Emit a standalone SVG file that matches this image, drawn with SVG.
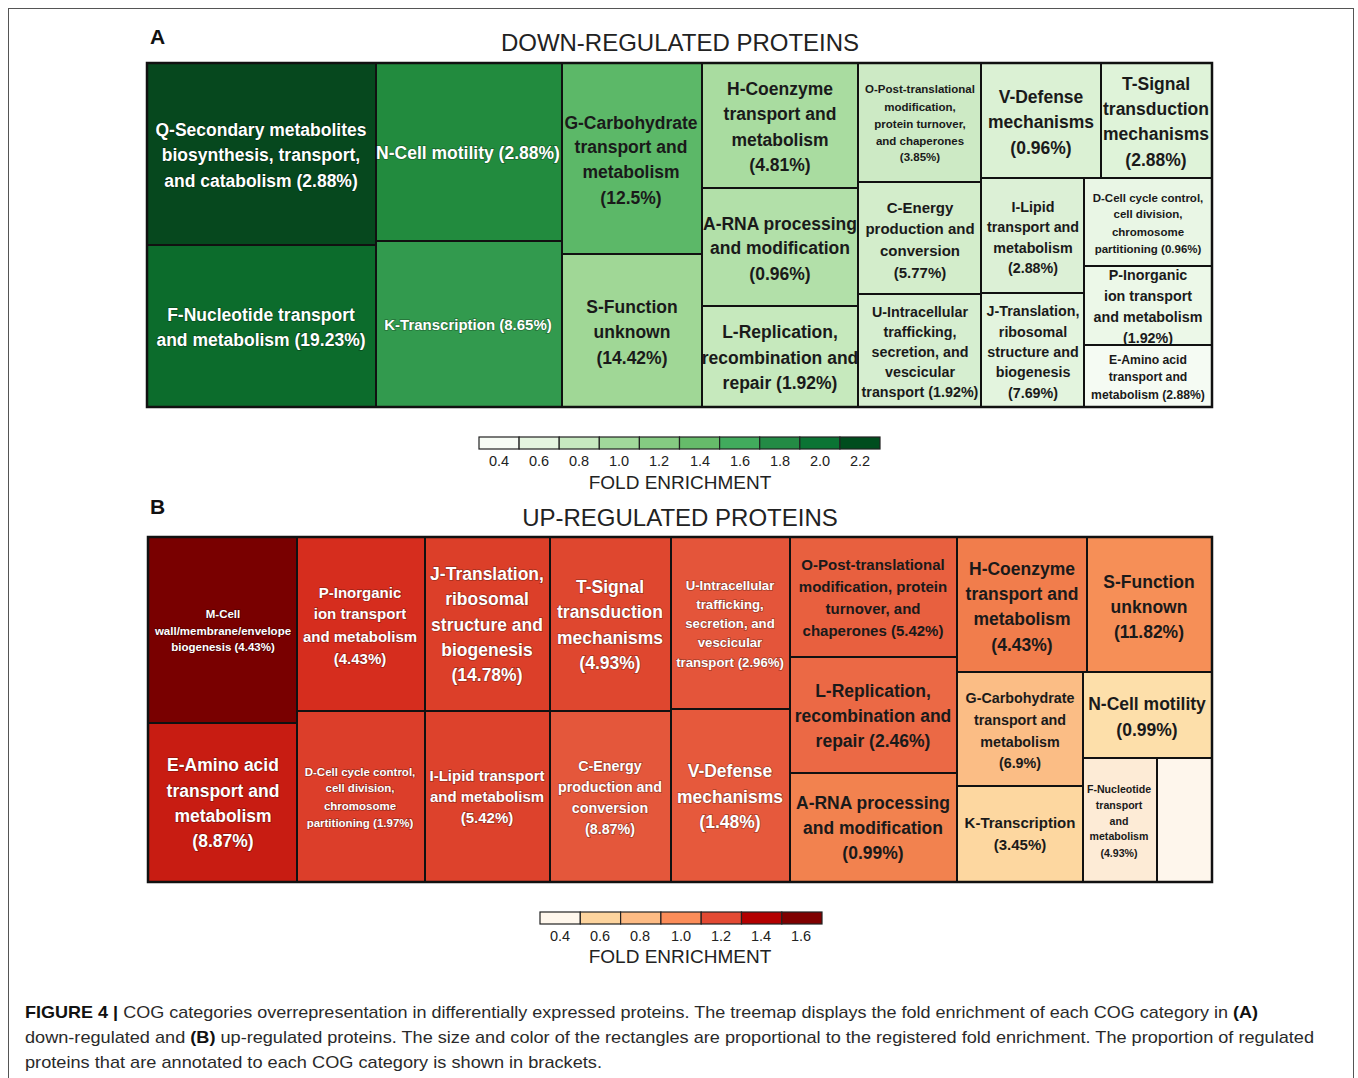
<svg xmlns="http://www.w3.org/2000/svg" width="1358" height="1078" viewBox="0 0 1358 1078">
<style>
.cell{stroke:#111;stroke-width:2}
.t{font-family:"Liberation Sans",Arial,sans-serif;font-weight:bold;text-anchor:middle}
.w{fill:#fff;stroke:rgba(0,0,0,0.3);stroke-width:1.5;paint-order:stroke}
.k{fill:#1a1a1a}
.f17{font-size:17.5px}
.f15{font-size:15px}
.f14{font-size:14.3px}
.f13{font-size:13.2px}
.f12{font-size:12.2px}
.f11{font-size:11.5px}
.f10{font-size:10.6px}
.lg{font-family:"Liberation Sans",Arial,sans-serif;fill:#222}
.lb{stroke:#222;stroke-width:1.2}
.cap{font-family:"Liberation Sans",Arial,sans-serif;font-size:17px;fill:#2a2a2a}
</style>
<rect x="0" y="0" width="1358" height="1078" fill="#fff"/>
<rect x="8.5" y="8.5" width="1345" height="1090" fill="none" stroke="#555" stroke-width="1"/>

<text x="150" y="44" font-family="Liberation Sans,Arial,sans-serif" font-weight="bold" font-size="21" fill="#111">A</text>
<text x="680" y="51" class="lg" font-size="24" text-anchor="middle">DOWN-REGULATED PROTEINS</text>

<g id="panelA">
<g id="a-Q"><rect class="cell" x="147" y="63" width="229" height="182" fill="#06481e"/>
<text class="t w f17" x="261"><tspan x="261" y="136">Q-Secondary metabolites</tspan><tspan x="261" y="161">biosynthesis, transport,</tspan><tspan x="261" y="187">and catabolism (2.88%)</tspan></text></g>
<g id="a-F"><rect class="cell" x="147" y="245" width="229" height="162" fill="#0c6c2c"/>
<text class="t w f17"><tspan x="261" y="321">F-Nucleotide transport</tspan><tspan x="261" y="346">and metabolism (19.23%)</tspan></text></g>
<g id="a-N"><rect class="cell" x="376" y="63" width="186" height="178" fill="#228b3e"/>
<text class="t w f17"><tspan x="468" y="159">N-Cell motility (2.88%)</tspan></text></g>
<g id="a-K"><rect class="cell" x="376" y="241" width="186" height="166" fill="#329a4e"/>
<text class="t w f15"><tspan x="468" y="330">K-Transcription (8.65%)</tspan></text></g>
<g id="a-G"><rect class="cell" x="562" y="63" width="140" height="191" fill="#5cb868"/>
<text class="t k f17"><tspan x="631" y="129">G-Carbohydrate</tspan><tspan x="631" y="153">transport and</tspan><tspan x="631" y="178">metabolism</tspan><tspan x="631" y="204">(12.5%)</tspan></text></g>
<g id="a-S"><rect class="cell" x="562" y="254" width="140" height="153" fill="#a0d796"/>
<text class="t k f17"><tspan x="632" y="313">S-Function</tspan><tspan x="632" y="338">unknown</tspan><tspan x="632" y="364">(14.42%)</tspan></text></g>
<g id="a-H"><rect class="cell" x="702" y="63" width="156" height="125" fill="#a9dca0"/>
<text class="t k f17"><tspan x="780" y="95">H-Coenzyme</tspan><tspan x="780" y="120">transport and</tspan><tspan x="780" y="146">metabolism</tspan><tspan x="780" y="171">(4.81%)</tspan></text></g>
<g id="a-A"><rect class="cell" x="702" y="188" width="156" height="118" fill="#b2e0a9"/>
<text class="t k f17"><tspan x="780" y="230">A-RNA processing</tspan><tspan x="780" y="254">and modification</tspan><tspan x="780" y="280">(0.96%)</tspan></text></g>
<g id="a-L"><rect class="cell" x="702" y="306" width="156" height="101" fill="#c6e9bd"/>
<text class="t k f17"><tspan x="780" y="338">L-Replication,</tspan><tspan x="780" y="364">recombination and</tspan><tspan x="780" y="389">repair (1.92%)</tspan></text></g>
<g id="a-O"><rect class="cell" x="858" y="63" width="123" height="119" fill="#cdeac5"/>
<text class="t k f11"><tspan x="920" y="93">O-Post-translational</tspan><tspan x="920" y="111">modification,</tspan><tspan x="920" y="128">protein turnover,</tspan><tspan x="920" y="145">and chaperones</tspan><tspan x="920" y="161">(3.85%)</tspan></text></g>
<g id="a-C"><rect class="cell" x="858" y="182" width="123" height="112" fill="#d3edcb"/>
<text class="t k f15"><tspan x="920" y="213">C-Energy</tspan><tspan x="920" y="234">production and</tspan><tspan x="920" y="256">conversion</tspan><tspan x="920" y="278">(5.77%)</tspan></text></g>
<g id="a-U"><rect class="cell" x="858" y="294" width="123" height="113" fill="#d6eed0"/>
<text class="t k f14"><tspan x="920" y="317">U-Intracellular</tspan><tspan x="920" y="337">trafficking,</tspan><tspan x="920" y="357">secretion, and</tspan><tspan x="920" y="377">vescicular</tspan><tspan x="920" y="397">transport (1.92%)</tspan></text></g>
<g id="a-V"><rect class="cell" x="981" y="63" width="120" height="115" fill="#dbf1d4"/>
<text class="t k f17"><tspan x="1041" y="103">V-Defense</tspan><tspan x="1041" y="128">mechanisms</tspan><tspan x="1041" y="154">(0.96%)</tspan></text></g>
<g id="a-T"><rect class="cell" x="1101" y="63" width="111" height="115" fill="#dff3d9"/>
<text class="t k f17"><tspan x="1156" y="90">T-Signal</tspan><tspan x="1156" y="115">transduction</tspan><tspan x="1156" y="140">mechanisms</tspan><tspan x="1156" y="166">(2.88%)</tspan></text></g>
<g id="a-I"><rect class="cell" x="981" y="178" width="103" height="115" fill="#dcf0d6"/>
<text class="t k f14"><tspan x="1033" y="212">I-Lipid</tspan><tspan x="1033" y="232">transport and</tspan><tspan x="1033" y="253">metabolism</tspan><tspan x="1033" y="273">(2.88%)</tspan></text></g>
<g id="a-J"><rect class="cell" x="981" y="293" width="103" height="114" fill="#e3f4de"/>
<text class="t k f14"><tspan x="1033" y="316">J-Translation,</tspan><tspan x="1033" y="337">ribosomal</tspan><tspan x="1033" y="357">structure and</tspan><tspan x="1033" y="377">biogenesis</tspan><tspan x="1033" y="398">(7.69%)</tspan></text></g>
<g id="a-D"><rect class="cell" x="1084" y="178" width="128" height="88" fill="#e9f6e5"/>
<text class="t k f11"><tspan x="1148" y="202">D-Cell cycle control,</tspan><tspan x="1148" y="218">cell division,</tspan><tspan x="1148" y="236">chromosome</tspan><tspan x="1148" y="253">partitioning (0.96%)</tspan></text></g>
<g id="a-P"><rect class="cell" x="1084" y="266" width="128" height="79" fill="#ecf8e8"/>
<text class="t k f14"><tspan x="1148" y="280">P-Inorganic</tspan><tspan x="1148" y="301">ion transport</tspan><tspan x="1148" y="322">and metabolism</tspan><tspan x="1148" y="343">(1.92%)</tspan></text></g>
<g id="a-E"><rect class="cell" x="1084" y="345" width="128" height="62" fill="#f5fbf3"/>
<text class="t k f12"><tspan x="1148" y="364">E-Amino acid</tspan><tspan x="1148" y="381">transport and</tspan><tspan x="1148" y="399">metabolism (2.88%)</tspan></text></g>
<rect x="147" y="63" width="1065" height="344" fill="none" stroke="#111" stroke-width="2.5"/>
</g>

<g id="legendA">
<rect class="lb" x="479" y="437" width="40.1" height="12" fill="#f7fcf5"/>
<rect class="lb" x="519.1" y="437" width="40.1" height="12" fill="#e5f5e0"/>
<rect class="lb" x="559.2" y="437" width="40.1" height="12" fill="#c7e9c0"/>
<rect class="lb" x="599.3" y="437" width="40.1" height="12" fill="#a1d99b"/>
<rect class="lb" x="639.4" y="437" width="40.1" height="12" fill="#85cb82"/>
<rect class="lb" x="679.5" y="437" width="40.1" height="12" fill="#66bb6a"/>
<rect class="lb" x="719.6" y="437" width="40.1" height="12" fill="#41ab5d"/>
<rect class="lb" x="759.7" y="437" width="40.1" height="12" fill="#238b45"/>
<rect class="lb" x="799.8" y="437" width="40.1" height="12" fill="#0b7434"/>
<rect class="lb" x="839.9" y="437" width="40.1" height="12" fill="#004d1e"/>
<g class="lg" font-size="14.5" text-anchor="middle">
<text x="499" y="466">0.4</text><text x="539" y="466">0.6</text><text x="579" y="466">0.8</text><text x="619" y="466">1.0</text><text x="659" y="466">1.2</text><text x="700" y="466">1.4</text><text x="740" y="466">1.6</text><text x="780" y="466">1.8</text><text x="820" y="466">2.0</text><text x="860" y="466">2.2</text>
</g>
<text class="lg" x="680" y="489" font-size="19" text-anchor="middle">FOLD ENRICHMENT</text>
</g>

<text x="150" y="514" font-family="Liberation Sans,Arial,sans-serif" font-weight="bold" font-size="21" fill="#111">B</text>
<text x="680" y="526" class="lg" font-size="24" text-anchor="middle">UP-REGULATED PROTEINS</text>

<g id="panelB">
<g id="b-M"><rect class="cell" x="148" y="537" width="149" height="186" fill="#790000"/>
<text class="t w f11"><tspan x="223" y="618">M-Cell</tspan><tspan x="223" y="635">wall/membrane/envelope</tspan><tspan x="223" y="651">biogenesis (4.43%)</tspan></text></g>
<g id="b-E"><rect class="cell" x="148" y="723" width="149" height="159" fill="#c81c12"/>
<text class="t w f17"><tspan x="223" y="771">E-Amino acid</tspan><tspan x="223" y="797">transport and</tspan><tspan x="223" y="822">metabolism</tspan><tspan x="223" y="847">(8.87%)</tspan></text></g>
<g id="b-P"><rect class="cell" x="297" y="537" width="128" height="174" fill="#d62d1e"/>
<text class="t w f15"><tspan x="360" y="598">P-Inorganic</tspan><tspan x="360" y="619">ion transport</tspan><tspan x="360" y="642">and metabolism</tspan><tspan x="360" y="664">(4.43%)</tspan></text></g>
<g id="b-D"><rect class="cell" x="297" y="711" width="128" height="171" fill="#dc3e2a"/>
<text class="t w f11"><tspan x="360" y="776">D-Cell cycle control,</tspan><tspan x="360" y="792">cell division,</tspan><tspan x="360" y="810">chromosome</tspan><tspan x="360" y="827">partitioning (1.97%)</tspan></text></g>
<g id="b-J"><rect class="cell" x="425" y="537" width="125" height="174" fill="#dc3f29"/>
<text class="t w f17"><tspan x="487" y="580">J-Translation,</tspan><tspan x="487" y="605">ribosomal</tspan><tspan x="487" y="631">structure and</tspan><tspan x="487" y="656">biogenesis</tspan><tspan x="487" y="681">(14.78%)</tspan></text></g>
<g id="b-I"><rect class="cell" x="425" y="711" width="125" height="171" fill="#dd422c"/>
<text class="t w f15"><tspan x="487" y="781">I-Lipid transport</tspan><tspan x="487" y="802">and metabolism</tspan><tspan x="487" y="823">(5.42%)</tspan></text></g>
<g id="b-T"><rect class="cell" x="550" y="537" width="121" height="174" fill="#df472f"/>
<text class="t w f17"><tspan x="610" y="593">T-Signal</tspan><tspan x="610" y="618">transduction</tspan><tspan x="610" y="644">mechanisms</tspan><tspan x="610" y="669">(4.93%)</tspan></text></g>
<g id="b-C"><rect class="cell" x="550" y="711" width="121" height="171" fill="#e4573b"/>
<text class="t w f14"><tspan x="610" y="771">C-Energy</tspan><tspan x="610" y="792">production and</tspan><tspan x="610" y="813">conversion</tspan><tspan x="610" y="834">(8.87%)</tspan></text></g>
<g id="b-U"><rect class="cell" x="671" y="537" width="119" height="172" fill="#e4553a"/>
<text class="t w f13"><tspan x="730" y="590">U-Intracellular</tspan><tspan x="730" y="609">trafficking,</tspan><tspan x="730" y="628">secretion, and</tspan><tspan x="730" y="647">vescicular</tspan><tspan x="730" y="667">transport (2.96%)</tspan></text></g>
<g id="b-V"><rect class="cell" x="671" y="709" width="119" height="173" fill="#e6593c"/>
<text class="t w f17"><tspan x="730" y="777">V-Defense</tspan><tspan x="730" y="803">mechanisms</tspan><tspan x="730" y="828">(1.48%)</tspan></text></g>
<g id="b-O"><rect class="cell" x="790" y="537" width="167" height="120" fill="#e8603f"/>
<text class="t k f15"><tspan x="873" y="570">O-Post-translational</tspan><tspan x="873" y="592">modification, protein</tspan><tspan x="873" y="614">turnover, and</tspan><tspan x="873" y="636">chaperones (5.42%)</tspan></text></g>
<g id="b-L"><rect class="cell" x="790" y="657" width="167" height="116" fill="#eb6945"/>
<text class="t k f17"><tspan x="873" y="697">L-Replication,</tspan><tspan x="873" y="722">recombination and</tspan><tspan x="873" y="747">repair (2.46%)</tspan></text></g>
<g id="b-A"><rect class="cell" x="790" y="773" width="167" height="109" fill="#f2824f"/>
<text class="t k f17"><tspan x="873" y="809">A-RNA processing</tspan><tspan x="873" y="834">and modification</tspan><tspan x="873" y="859">(0.99%)</tspan></text></g>
<g id="b-H"><rect class="cell" x="957" y="537" width="130" height="135" fill="#f17d4c"/>
<text class="t k f17"><tspan x="1022" y="575">H-Coenzyme</tspan><tspan x="1022" y="600">transport and</tspan><tspan x="1022" y="625">metabolism</tspan><tspan x="1022" y="651">(4.43%)</tspan></text></g>
<g id="b-S"><rect class="cell" x="1087" y="537" width="125" height="135" fill="#f68f57"/>
<text class="t k f17"><tspan x="1149" y="588">S-Function</tspan><tspan x="1149" y="613">unknown</tspan><tspan x="1149" y="638">(11.82%)</tspan></text></g>
<g id="b-G"><rect class="cell" x="957" y="672" width="126" height="114" fill="#fbbd85"/>
<text class="t k f14"><tspan x="1020" y="703">G-Carbohydrate</tspan><tspan x="1020" y="725">transport and</tspan><tspan x="1020" y="747">metabolism</tspan><tspan x="1020" y="768">(6.9%)</tspan></text></g>
<g id="b-K"><rect class="cell" x="957" y="786" width="126" height="96" fill="#fdd7a0"/>
<text class="t k f15"><tspan x="1020" y="828">K-Transcription</tspan><tspan x="1020" y="850">(3.45%)</tspan></text></g>
<g id="b-N"><rect class="cell" x="1083" y="672" width="129" height="86" fill="#fddfaa"/>
<text class="t k f17"><tspan x="1147" y="710">N-Cell motility</tspan><tspan x="1147" y="736">(0.99%)</tspan></text></g>
<g id="b-F"><rect class="cell" x="1083" y="758" width="74" height="124" fill="#fdebd6"/>
<text class="t k f10"><tspan x="1119" y="793">F-Nucleotide</tspan><tspan x="1119" y="809">transport</tspan><tspan x="1119" y="825">and</tspan><tspan x="1119" y="840">metabolism</tspan><tspan x="1119" y="857">(4.93%)</tspan></text></g>
<g id="b-blank"><rect class="cell" x="1157" y="758" width="55" height="124" fill="#fef6ec"/></g>
<rect x="148" y="537" width="1064" height="345" fill="none" stroke="#111" stroke-width="2.5"/>
</g>

<g id="legendB">
<rect class="lb" x="540" y="912" width="40.3" height="12" fill="#fff7ec"/>
<rect class="lb" x="580.3" y="912" width="40.3" height="12" fill="#fdd49e"/>
<rect class="lb" x="620.6" y="912" width="40.3" height="12" fill="#fdbb84"/>
<rect class="lb" x="660.9" y="912" width="40.3" height="12" fill="#fc8d59"/>
<rect class="lb" x="701.2" y="912" width="40.3" height="12" fill="#e34a33"/>
<rect class="lb" x="741.5" y="912" width="40.3" height="12" fill="#b30000"/>
<rect class="lb" x="781.8" y="912" width="40.2" height="12" fill="#7f0000"/>
<g class="lg" font-size="14.5" text-anchor="middle">
<text x="560" y="941">0.4</text><text x="600" y="941">0.6</text><text x="640" y="941">0.8</text><text x="681" y="941">1.0</text><text x="721" y="941">1.2</text><text x="761" y="941">1.4</text><text x="801" y="941">1.6</text>
</g>
<text class="lg" x="680" y="963" font-size="19" text-anchor="middle">FOLD ENRICHMENT</text>
</g>

<g id="caption">
<text class="cap" x="25" y="1018" textLength="1233" lengthAdjust="spacingAndGlyphs"><tspan font-weight="bold" fill="#111">FIGURE 4 |</tspan> COG categories overrepresentation in differentially expressed proteins. The treemap displays the fold enrichment of each COG category in <tspan font-weight="bold" fill="#111">(A)</tspan></text>
<text class="cap" x="25" y="1043" textLength="1289" lengthAdjust="spacingAndGlyphs">down-regulated and <tspan font-weight="bold" fill="#111">(B)</tspan> up-regulated proteins. The size and color of the rectangles are proportional to the registered fold enrichment. The proportion of regulated</text>
<text class="cap" x="25" y="1068" textLength="577" lengthAdjust="spacingAndGlyphs">proteins that are annotated to each COG category is shown in brackets.</text>
</g>
</svg>
